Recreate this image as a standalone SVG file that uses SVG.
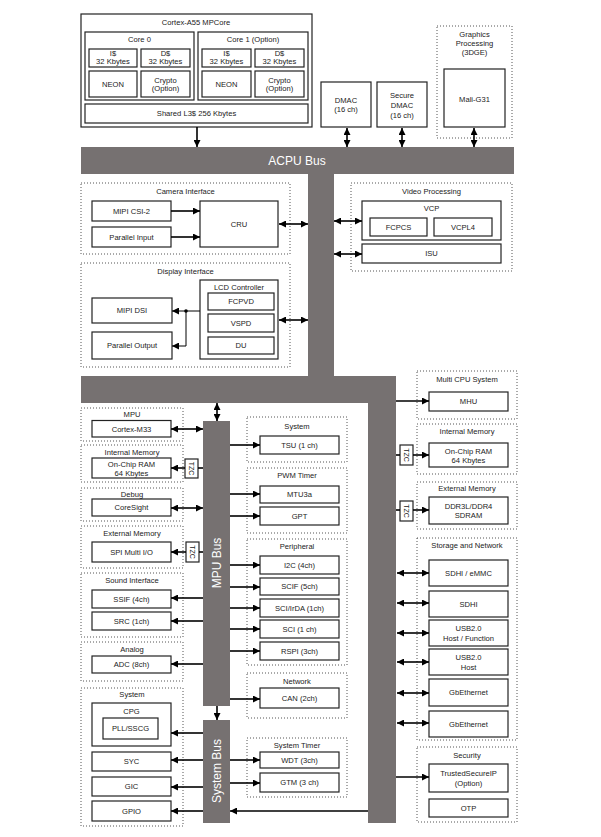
<svg xmlns="http://www.w3.org/2000/svg" width="601" height="837" viewBox="0 0 601 837">
<defs>
<style>
.b{fill:#fff;stroke:#222;stroke-width:1.2}
.d{fill:none;stroke:#555;stroke-width:1;stroke-dasharray:1 2}
.bus{fill:#767171}
text{font-family:"Liberation Sans",Arial,sans-serif;font-size:7.6px;fill:#222;text-anchor:middle;dominant-baseline:central}
.bt{fill:#fff;font-size:12px}
.c{stroke:#000;stroke-width:1.6;fill:none}
.a{marker-end:url(#ah)}
.aa{marker-start:url(#ah);marker-end:url(#ah)}
</style>
<marker id="ah" viewBox="0 0 8 8" refX="8" refY="4" markerWidth="7" markerHeight="7" markerUnits="userSpaceOnUse" orient="auto-start-reverse">
<path d="M0,0 L8,4 L0,8 z" fill="#000"/>
</marker>
</defs>
<rect width="601" height="837" fill="#fff"/>

<g id="buses">
<rect class="bus" x="81" y="147" width="433" height="27"/>
<rect class="bus" x="308" y="173" width="26" height="204"/>
<rect class="bus" x="81" y="376" width="315" height="27"/>
<rect class="bus" x="368" y="402" width="28" height="421"/>
<rect class="bus" x="203" y="421" width="27" height="285"/>
<rect class="bus" x="203" y="720" width="27" height="103"/>
<text class="bt" x="297" y="161">ACPU Bus</text>
<text class="bt" transform="translate(217,563) rotate(-90)">MPU Bus</text>
<text class="bt" transform="translate(217,771) rotate(-90)">System Bus</text>
</g>

<g id="cortex-a55">
<rect class="b" x="81" y="14" width="231" height="113"/>
<text x="196" y="22">Cortex-A55 MPCore</text>
<rect class="b" x="85" y="32" width="109" height="68"/>
<text x="139.5" y="39">Core 0</text>
<rect class="b" x="89" y="49" width="48" height="18"/>
<text x="113" y="53.5">I$</text><text x="113" y="61.5">32 Kbytes</text>
<rect class="b" x="141" y="49" width="49" height="18"/>
<text x="165.5" y="53.5">D$</text><text x="165.5" y="61.5">32 Kbytes</text>
<rect class="b" x="89" y="71" width="48" height="26"/>
<text x="113" y="84">NEON</text>
<rect class="b" x="141" y="71" width="49" height="26"/>
<text x="165.5" y="80">Crypto</text><text x="165.5" y="88.5">(Option)</text>
<rect class="b" x="198" y="32" width="110" height="68"/>
<text x="253" y="39">Core 1 (Option)</text>
<rect class="b" x="202" y="49" width="49" height="18"/>
<text x="226.5" y="53.5">I$</text><text x="226.5" y="61.5">32 Kbytes</text>
<rect class="b" x="255" y="49" width="49" height="18"/>
<text x="279.5" y="53.5">D$</text><text x="279.5" y="61.5">32 Kbytes</text>
<rect class="b" x="202" y="71" width="49" height="26"/>
<text x="226.5" y="84">NEON</text>
<rect class="b" x="255" y="71" width="49" height="26"/>
<text x="279.5" y="80">Crypto</text><text x="279.5" y="88.5">(Option)</text>
<rect class="b" x="85" y="104" width="223" height="19"/>
<text x="196.5" y="113.5">Shared L3$ 256 Kbytes</text>
</g>

<g id="dmac">
<rect class="b" x="321" y="82" width="50" height="45"/>
<text x="346" y="100">DMAC</text><text x="346" y="109">(16 ch)</text>
</g>
<g id="secure-dmac">
<rect class="b" x="377" y="82" width="50" height="45"/>
<text x="402" y="95">Secure</text><text x="402" y="105">DMAC</text><text x="402" y="115">(16 ch)</text>
</g>
<g id="graphics">
<rect class="d" x="437" y="26" width="75" height="112"/>
<text x="474.5" y="34">Graphics</text><text x="474.5" y="43">Processing</text><text x="474.5" y="52">(3DGE)</text>
<rect class="b" x="444" y="69" width="61" height="58"/>
<text x="474.5" y="99">Mali-G31</text>
</g>

<g id="camera">
<rect class="d" x="81" y="183" width="209" height="71"/>
<text x="185.5" y="191">Camera Interface</text>
<rect class="b" x="92" y="201" width="79" height="20"/>
<text x="131.5" y="211">MIPI CSI-2</text>
<rect class="b" x="92" y="227" width="79" height="20"/>
<text x="131.5" y="237">Parallel Input</text>
<rect class="b" x="200" y="201" width="78" height="46"/>
<text x="239" y="224">CRU</text>
</g>

<g id="video">
<rect class="d" x="351" y="183" width="161" height="88"/>
<text x="431.5" y="191">Video Processing</text>
<rect class="b" x="362" y="201" width="139" height="39"/>
<text x="431.5" y="208">VCP</text>
<rect class="b" x="370" y="218" width="57" height="18"/>
<text x="398.5" y="227">FCPCS</text>
<rect class="b" x="434" y="218" width="58" height="18"/>
<text x="463" y="227">VCPL4</text>
<rect class="b" x="362" y="244" width="139" height="19"/>
<text x="431.5" y="253.5">ISU</text>
</g>

<g id="display">
<rect class="d" x="81" y="263" width="209" height="104"/>
<text x="185.5" y="271">Display Interface</text>
<rect class="b" x="200" y="280" width="78" height="79"/>
<text x="239" y="287">LCD Controller</text>
<rect class="b" x="208" y="293" width="66" height="17"/>
<text x="241" y="301.5">FCPVD</text>
<rect class="b" x="208" y="314" width="66" height="18"/>
<text x="241" y="323">VSPD</text>
<rect class="b" x="208" y="337" width="66" height="17"/>
<text x="241" y="345.5">DU</text>
<rect class="b" x="92" y="298" width="80" height="25"/>
<text x="132" y="310.5">MIPI DSI</text>
<rect class="b" x="92" y="332" width="80" height="27"/>
<text x="132" y="345.5">Parallel Output</text>
</g>

<g id="mpu">
<rect class="d" x="81" y="408" width="102" height="33"/>
<text x="132" y="414.5">MPU</text>
<rect class="b" x="92" y="420.5" width="79" height="16.5"/>
<text x="131.5" y="429">Cortex-M33</text>
</g>
<g id="int-mem-left">
<rect class="d" x="81" y="445" width="102" height="37"/>
<text x="132" y="452.5">Internal Memory</text>
<rect class="b" x="92" y="458" width="79" height="20"/>
<text x="131.5" y="464">On-Chip RAM</text><text x="131.5" y="473">64 Kbytes</text>
<rect class="b" x="185" y="459" width="13" height="19"/>
<text transform="translate(191.5,468.5) rotate(90)" style="font-size:7px">TZC</text>
</g>
<g id="debug">
<rect class="d" x="81" y="488" width="102" height="33"/>
<text x="132" y="494">Debug</text>
<rect class="b" x="92" y="499" width="79" height="17"/>
<text x="131.5" y="507.5">CoreSight</text>
</g>
<g id="ext-mem-left">
<rect class="d" x="81" y="526" width="102" height="42"/>
<text x="132" y="533">External Memory</text>
<rect class="b" x="92" y="542" width="79" height="20"/>
<text x="131.5" y="552">SPI Multi I/O</text>
<rect class="b" x="186" y="542" width="13" height="20"/>
<text transform="translate(192.5,552) rotate(90)" style="font-size:7px">TZC</text>
</g>
<g id="sound">
<rect class="d" x="81" y="573" width="102" height="64"/>
<text x="132" y="580">Sound Interface</text>
<rect class="b" x="92" y="590" width="79" height="18"/>
<text x="131.5" y="599">SSIF (4ch)</text>
<rect class="b" x="92" y="612" width="79" height="18"/>
<text x="131.5" y="621">SRC (1ch)</text>
</g>
<g id="analog">
<rect class="d" x="81" y="642" width="102" height="39"/>
<text x="132" y="649">Analog</text>
<rect class="b" x="92" y="656" width="79" height="17"/>
<text x="131.5" y="664.5">ADC (8ch)</text>
</g>
<g id="system-left">
<rect class="d" x="81" y="688" width="102" height="138"/>
<text x="132" y="694">System</text>
<rect class="b" x="92" y="703" width="79" height="43"/>
<text x="131.5" y="711">CPG</text>
<rect class="b" x="103" y="718" width="55" height="21"/>
<text x="130.5" y="728.5">PLL/SSCG</text>
<rect class="b" x="92" y="752" width="79" height="19"/>
<text x="131.5" y="761.5">SYC</text>
<rect class="b" x="92" y="777" width="79" height="19"/>
<text x="131.5" y="786.5">GIC</text>
<rect class="b" x="92" y="801" width="79" height="20"/>
<text x="131.5" y="811">GPIO</text>
</g>

<g id="system-mid">
<rect class="d" x="247" y="417" width="100" height="45"/>
<text x="297" y="426">System</text>
<rect class="b" x="260" y="436" width="79" height="18"/>
<text x="299.5" y="445">TSU (1 ch)</text>
</g>
<g id="pwm">
<rect class="d" x="247" y="468" width="100" height="65"/>
<text x="297" y="475">PWM Timer</text>
<rect class="b" x="260" y="486" width="79" height="17"/>
<text x="299.5" y="494.5">MTU3a</text>
<rect class="b" x="260" y="507" width="79" height="18"/>
<text x="299.5" y="516">GPT</text>
</g>
<g id="peripheral">
<rect class="d" x="247" y="539" width="100" height="126"/>
<text x="297" y="546">Peripheral</text>
<rect class="b" x="260" y="556" width="79" height="18"/>
<text x="299.5" y="565">I2C (4ch)</text>
<rect class="b" x="260" y="578" width="79" height="17"/>
<text x="299.5" y="586.5">SCIF (5ch)</text>
<rect class="b" x="260" y="599" width="79" height="18"/>
<text x="299.5" y="608">SCI/IrDA (1ch)</text>
<rect class="b" x="260" y="620" width="79" height="18"/>
<text x="299.5" y="629">SCI (1 ch)</text>
<rect class="b" x="260" y="642" width="79" height="18"/>
<text x="299.5" y="651">RSPI (3ch)</text>
</g>
<g id="network">
<rect class="d" x="247" y="673" width="100" height="45"/>
<text x="297" y="681">Network</text>
<rect class="b" x="260" y="688" width="79" height="20"/>
<text x="299.5" y="698">CAN (2ch)</text>
</g>
<g id="system-timer">
<rect class="d" x="247" y="738" width="100" height="59"/>
<text x="297" y="745">System Timer</text>
<rect class="b" x="260" y="752" width="79" height="16"/>
<text x="299.5" y="760">WDT (3ch)</text>
<rect class="b" x="260" y="773" width="79" height="19"/>
<text x="299.5" y="782.5">GTM (3 ch)</text>
</g>

<g id="multi-cpu">
<rect class="d" x="417" y="371" width="100" height="48"/>
<text x="467" y="379">Multi CPU System</text>
<rect class="b" x="429" y="392" width="79" height="19"/>
<text x="468.5" y="401.5">MHU</text>
</g>
<g id="int-mem-right">
<rect class="d" x="417" y="424" width="100" height="50"/>
<text x="467" y="431">Internal Memory</text>
<rect class="b" x="429" y="443" width="79" height="24"/>
<text x="468.5" y="451">On-Chip RAM</text><text x="468.5" y="460">64 Kbytes</text>
<rect class="b" x="400" y="445" width="13" height="20"/>
<text transform="translate(406.5,455) rotate(90)" style="font-size:7px">TZC</text>
</g>
<g id="ext-mem-right">
<rect class="d" x="417" y="482" width="100" height="47"/>
<text x="467" y="488">External Memory</text>
<rect class="b" x="429" y="497" width="79" height="27"/>
<text x="468.5" y="506">DDR3L/DDR4</text><text x="468.5" y="515.5">SDRAM</text>
<rect class="b" x="400" y="501" width="13" height="20"/>
<text transform="translate(406.5,511) rotate(90)" style="font-size:7px">TZC</text>
</g>
<g id="storage">
<rect class="d" x="417" y="538" width="100" height="202"/>
<text x="467" y="545">Storage and Network</text>
<rect class="b" x="429" y="560" width="79" height="26"/>
<text x="468.5" y="573">SDHI / eMMC</text>
<rect class="b" x="429" y="591" width="79" height="26"/>
<text x="468.5" y="604">SDHI</text>
<rect class="b" x="429" y="620" width="79" height="26"/>
<text x="468.5" y="628.5">USB2.0</text><text x="468.5" y="638">Host / Function</text>
<rect class="b" x="429" y="649" width="79" height="26"/>
<text x="468.5" y="657.5">USB2.0</text><text x="468.5" y="667">Host</text>
<rect class="b" x="429" y="679" width="79" height="27"/>
<text x="468.5" y="692.5">GbEthernet</text>
<rect class="b" x="429" y="711" width="79" height="26"/>
<text x="468.5" y="724">GbEthernet</text>
</g>
<g id="security">
<rect class="d" x="417" y="747" width="100" height="75"/>
<text x="467" y="755">Security</text>
<rect class="b" x="429" y="764" width="79" height="28"/>
<text x="468.5" y="773">TrustedSecureIP</text><text x="468.5" y="783">(Option)</text>
<rect class="b" x="429" y="799" width="79" height="18"/>
<text x="468.5" y="808">OTP</text>
</g>

<g id="connectors">
<line class="c a" x1="197" y1="127" x2="197" y2="147"/>
<line class="c aa" x1="347" y1="128" x2="347" y2="147"/>
<line class="c aa" x1="402" y1="128" x2="402" y2="147"/>
<line class="c aa" x1="474" y1="128" x2="474" y2="147"/>
<line class="c a" x1="171" y1="211" x2="200" y2="211"/>
<line class="c a" x1="171" y1="237" x2="200" y2="237"/>
<line class="c aa" x1="279" y1="224" x2="308" y2="224"/>
<line class="c aa" x1="334" y1="221" x2="362" y2="221"/>
<line class="c aa" x1="334" y1="254" x2="362" y2="254"/>
<line class="c aa" x1="279" y1="320" x2="308" y2="320"/>
<line class="c" x1="200" y1="311" x2="186" y2="311" style="stroke-width:1"/>
<line class="c a" x1="186" y1="311" x2="172" y2="311" style="stroke-width:1"/>
<polyline class="c a" points="186,311 186,346 172,346" style="stroke-width:1"/>
<circle cx="186" cy="311" r="1.8" fill="#000"/>
<line class="c aa" x1="217" y1="403" x2="217" y2="421"/>
<line class="c aa" x1="171" y1="429" x2="203" y2="429"/>
<line class="c" x1="203" y1="468" x2="198" y2="468"/>
<line class="c a" x1="185" y1="468" x2="171" y2="468"/>
<line class="c aa" x1="171" y1="508" x2="203" y2="508"/>
<line class="c" x1="203" y1="552" x2="199" y2="552"/>
<line class="c a" x1="186" y1="552" x2="171" y2="552"/>
<line class="c a" x1="203" y1="598" x2="171" y2="598"/>
<line class="c a" x1="203" y1="621" x2="171" y2="621"/>
<line class="c a" x1="203" y1="664" x2="171" y2="664"/>
<line class="c a" x1="217" y1="706" x2="217" y2="720"/>
<line class="c a" x1="203" y1="733" x2="171" y2="733"/>
<line class="c a" x1="203" y1="760" x2="171" y2="760"/>
<line class="c a" x1="203" y1="787" x2="171" y2="787"/>
<line class="c a" x1="203" y1="811" x2="171" y2="811"/>
<line class="c a" x1="368" y1="811" x2="230" y2="811"/>
<line class="c a" x1="230" y1="445" x2="260" y2="445"/>
<line class="c a" x1="230" y1="494" x2="260" y2="494"/>
<line class="c a" x1="230" y1="516" x2="260" y2="516"/>
<line class="c a" x1="230" y1="565" x2="260" y2="565"/>
<line class="c a" x1="230" y1="587" x2="260" y2="587"/>
<line class="c a" x1="230" y1="608" x2="260" y2="608"/>
<line class="c a" x1="230" y1="629" x2="260" y2="629"/>
<line class="c a" x1="230" y1="651" x2="260" y2="651"/>
<line class="c a" x1="230" y1="699" x2="260" y2="699"/>
<line class="c a" x1="230" y1="760" x2="260" y2="760"/>
<line class="c a" x1="230" y1="783" x2="260" y2="783"/>
<line class="c a" x1="396" y1="401" x2="429" y2="401"/>
<line class="c" x1="396" y1="455" x2="400" y2="455"/>
<line class="c a" x1="413" y1="455" x2="429" y2="455"/>
<line class="c" x1="396" y1="510" x2="400" y2="510"/>
<line class="c a" x1="413" y1="510" x2="429" y2="510"/>
<line class="c aa" x1="397" y1="573" x2="429" y2="573"/>
<line class="c aa" x1="397" y1="603" x2="429" y2="603"/>
<line class="c aa" x1="397" y1="633" x2="429" y2="633"/>
<line class="c aa" x1="397" y1="662" x2="429" y2="662"/>
<line class="c aa" x1="397" y1="693" x2="429" y2="693"/>
<line class="c aa" x1="397" y1="723" x2="429" y2="723"/>
<line class="c a" x1="396" y1="777" x2="429" y2="777"/>
</g>
</svg>
